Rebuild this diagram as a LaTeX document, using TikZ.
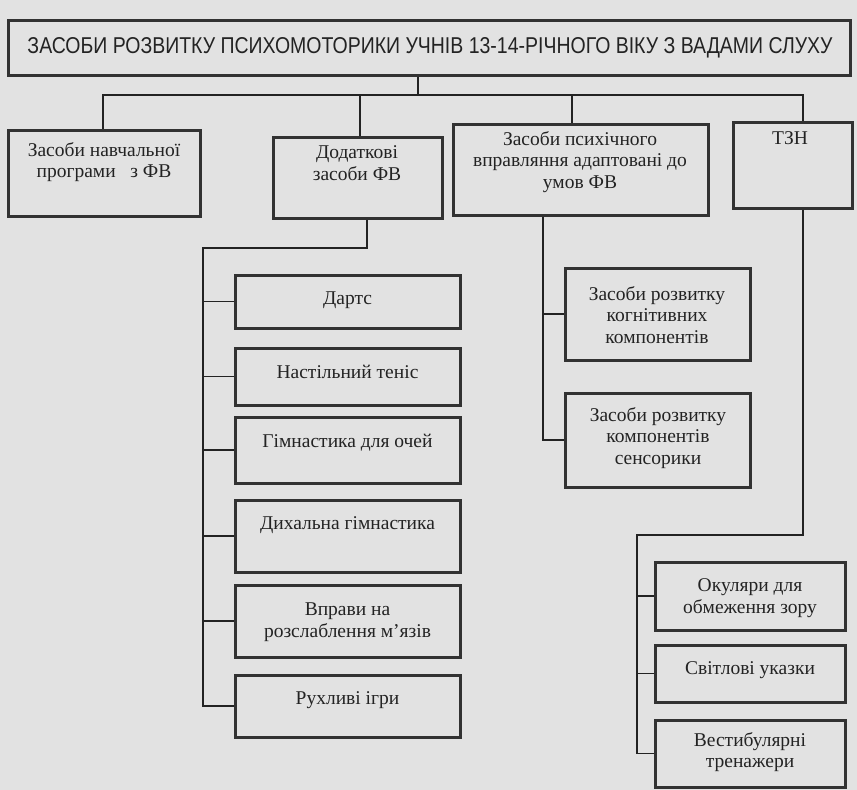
\documentclass[tikz,border=0pt]{standalone}
\usepackage{graphicx}
\usepackage{fontspec}
\setmainfont{Liberation Serif}
\newfontfamily\titlefont{Liberation Sans}
\usetikzlibrary{calc}
\definecolor{paper}{RGB}{226,226,226}
\definecolor{ink}{RGB}{35,35,35}
\definecolor{frameink}{RGB}{50,50,50}
\tikzset{
  frame/.style={draw=frameink, line width=3pt, rectangle, inner sep=0pt},
  txt/.style={text=ink, align=center, font=\fontsize{19.5}{21.5}\selectfont, inner sep=0pt},
  conn/.style={draw=ink, line width=1.1pt},
}
\begin{document}
\begin{tikzpicture}[x=1pt,y=-1pt]
\fill[paper] (0,0) rectangle (857,790);
\useasboundingbox (0,0) rectangle (857,790);

% title
\node[frame, minimum width=842pt, minimum height=55pt] (title) at (429,47.5) {};
\node[txt] (titlet) at (430,48) {\titlefont\resizebox{805pt}{16pt}{ЗАСОБИ РОЗВИТКУ ПСИХОМОТОРИКИ УЧНІВ 13-14-РІЧНОГО ВІКУ З ВАДАМИ СЛУХУ}};

% level 1 boxes
\node[frame, minimum width=192pt, minimum height=86pt] (b1) at (104,173) {};
\node[txt] (b1t) at (104,162) {Засоби навчальної\\програми \ \ з ФВ};
\node[frame, minimum width=169pt, minimum height=81pt] (b2) at (357.5,177.5) {};
\node[txt] (b2t) at (357,163) {Додаткові\\засоби ФВ};
\node[frame, minimum width=255pt, minimum height=91pt] (b3) at (580.5,169.5) {};
\node[txt] (b3t) at (580,162) {Засоби психічного\\вправляння адаптовані до\\умов ФВ};
\node[frame, minimum width=119pt, minimum height=86pt] (b4) at (792.5,165) {};
\node[txt] (b4t) at (790,138) {ТЗН};

% bus
\coordinate (busC) at (418,95);
\coordinate (busL) at (103,95);
\coordinate (busR) at (803,95);
\coordinate (d2) at (360,95);
\coordinate (d3) at (572,95);
\draw[conn] (busC |- title.south) -- (busC);
\draw[conn] (busL |- b1.north) -- (busL) -- (busR) -- (busR |- b4.north);
\draw[conn] (d2) -- (d2 |- b2.north);
\draw[conn] (d3) -- (d3 |- b3.north);

% left column
\node[frame, minimum width=225pt, minimum height=53pt] (c1) at (347.5,301.5) {};
\node[txt] (c1t) at (347.5,300) {Дартс};
\node[frame, minimum width=225pt, minimum height=57pt] (c2) at (347.5,376.5) {};
\node[txt] (c2t) at (347.5,372) {Настільний теніс};
\node[frame, minimum width=225pt, minimum height=66pt] (c3) at (347.5,450) {};
\node[txt] (c3t) at (347.5,443) {Гімнастика для очей};
\node[frame, minimum width=225pt, minimum height=72pt] (c4) at (347.5,536) {};
\node[txt] (c4t) at (347.5,525) {Дихальна гімнастика};
\node[frame, minimum width=225pt, minimum height=72pt] (c5) at (347.5,621) {};
\node[txt] (c5t) at (347.5,622) {Вправи на\\розслаблення м’язів};
\node[frame, minimum width=225pt, minimum height=62pt] (c6) at (347.5,706) {};
\node[txt] (c6t) at (347.5,700) {Рухливі ігри};

\coordinate (l0) at (367,248);
\coordinate (l1) at (203,248);
\draw[conn] (l0 |- b2.south) -- (l0) -- (l1) -- (l1 |- c6.west) -- (c6.west);
\foreach \n in {c1,c2,c3,c4,c5}{\draw[conn] (l1 |- \n.west) -- (\n.west);}

% middle column
\node[frame, minimum width=185pt, minimum height=92pt] (m1) at (657.5,314) {};
\node[txt] (m1t) at (657,315) {Засоби розвитку\\когнітивних\\компонентів};
\node[frame, minimum width=185pt, minimum height=94pt] (m2) at (657.5,440) {};
\node[txt] (m2t) at (658,438) {Засоби розвитку\\компонентів\\сенсорики};

\coordinate (m0) at (543,215);
\draw[conn] (m0 |- b3.south) -- (m0 |- m2.west) -- (m2.west);
\draw[conn] (m0 |- m1.west) -- (m1.west);

% right column
\node[frame, minimum width=190pt, minimum height=68pt] (r1) at (750,596) {};
\node[txt] (r1t) at (750,598) {Окуляри для\\обмеження зору};
\node[frame, minimum width=190pt, minimum height=57pt] (r2) at (750,673.5) {};
\node[txt] (r2t) at (750,670) {Світлові указки};
\node[frame, minimum width=190pt, minimum height=67pt] (r3) at (750,753.5) {};
\node[txt] (r3t) at (750,752) {Вестибулярні\\тренажери};

\coordinate (t0) at (803,535);
\coordinate (t1) at (637,535);
\draw[conn] (t0 |- b4.south) -- (t0) -- (t1) -- (t1 |- r3.west) -- (r3.west);
\draw[conn] (t1 |- r1.west) -- (r1.west);
\draw[conn] (t1 |- r2.west) -- (r2.west);
\end{tikzpicture}
\end{document}
